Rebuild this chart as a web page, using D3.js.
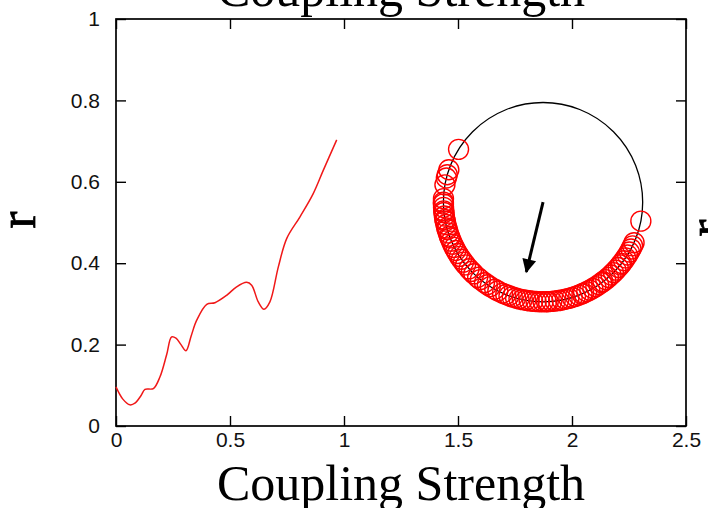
<!DOCTYPE html>
<html>
<head>
<meta charset="utf-8">
<script src="https://cdn.jsdelivr.net/npm/d3@7"></script>
<style>
  body { margin: 0; background: #fff; }
  svg { display: block; }
</style>
</head>
<body>
<div id="chart"></div>
<script>
// red curve: order parameter r vs coupling strength
var coupling = [0, 0.03, 0.061, 0.083, 0.11, 0.127, 0.164, 0.193, 0.222, 0.244, 0.263, 0.285, 0.307, 0.33, 0.354, 0.398, 0.434, 0.485, 0.529, 0.573, 0.595, 0.624, 0.649, 0.675, 0.712, 0.749, 0.807, 0.865, 0.909, 0.968];
var rValues  = [0.096, 0.066, 0.052, 0.056, 0.075, 0.09, 0.092, 0.121, 0.175, 0.219, 0.216, 0.2, 0.185, 0.222, 0.26, 0.299, 0.303, 0.321, 0.342, 0.353, 0.346, 0.305, 0.287, 0.305, 0.391, 0.461, 0.514, 0.571, 0.628, 0.703];

var xTicks = [0, 0.5, 1, 1.5, 2, 2.5];
var yTicks = [0, 0.2, 0.4, 0.6, 0.8, 1];

// inset: unit circle with oscillator phases (degrees) and mean field arrow
var insetCenter = [1.873, 0.55];   // in axis units
var insetRadius = 0.437;           // in x-axis units
var phases = [148, 161, 164, 166, 170, 349,
  178, 180, 181, 183, 185, 186, 188, 190, 191, 193, 195, 196, 198, 200, 201, 203, 205, 207,
  209, 211, 213, 215, 217, 219, 222, 224, 226, 229, 231, 234, 236, 238, 241, 243, 246, 248,
  250, 252, 254, 256, 258, 260, 262, 264, 266, 268, 270, 272, 273, 275, 277, 279, 281, 283,
  285, 287, 289, 291, 293, 294, 296, 298, 300, 302, 304, 306, 307, 309, 311, 313, 315, 317,
  319, 321, 322, 324, 326, 328, 330, 332, 334, 336];
var orderR = 0.72;
var orderPsi = 256.5;

var width = 708, height = 508;
var margin = {top: 19, right: 22, bottom: 82, left: 116};

var svg = d3.select("#chart")
  .append("svg")
    .attr("width", width)
    .attr("height", height)
    .attr("font-family", "'Liberation Sans', Arial, sans-serif");

var x = d3.scaleLinear()
  .domain([0, 2.5])
  .range([margin.left, width - margin.right]);

var y = d3.scaleLinear()
  .domain([0, 1])
  .range([height - margin.bottom, margin.top]);

// frame
svg.append("rect")
  .attr("x", x(0))
  .attr("y", y(1))
  .attr("width", x(2.5) - x(0))
  .attr("height", y(0) - y(1))
  .attr("fill", "none")
  .attr("stroke", "#000")
  .attr("stroke-width", 1.7);

// axes, ticks pointing inward
var fs = 21;
svg.append("g")
  .attr("transform", "translate(0," + y(0) + ")")
  .call(d3.axisBottom(x).tickValues(xTicks).tickSizeInner(-10).tickSizeOuter(0).tickPadding(6)
    .tickFormat(d3.format("")))
  .call(g => g.select(".domain").remove())
  .selectAll("text").attr("font-size", fs).attr("font-family", null).attr("fill", "#111");

svg.append("g")
  .attr("transform", "translate(" + x(0) + ",0)")
  .call(d3.axisLeft(y).tickValues(yTicks).tickSizeInner(-10).tickSizeOuter(0).tickPadding(16)
    .tickFormat(d3.format("")))
  .call(g => g.select(".domain").remove())
  .selectAll("text").attr("font-size", fs).attr("font-family", null).attr("fill", "#111");

svg.append("g")
  .attr("transform", "translate(0," + y(1) + ")")
  .call(d3.axisTop(x).tickValues(xTicks).tickSizeInner(-10).tickSizeOuter(0).tickFormat(""))
  .call(g => g.select(".domain").remove());

svg.append("g")
  .attr("transform", "translate(" + x(2.5) + ",0)")
  .call(d3.axisRight(y).tickValues(yTicks).tickSizeInner(-10).tickSizeOuter(0).tickFormat(""))
  .call(g => g.select(".domain").remove());

svg.selectAll(".tick line").attr("stroke", "#000").attr("stroke-width", 1.4);

// r(K) curve
var line = d3.line()
  .x(function(d, i) { return x(coupling[i]); })
  .y(function(d) { return y(d); })
  .curve(d3.curveCatmullRom);

svg.append("path")
  .attr("d", line(rValues))
  .attr("fill", "none")
  .attr("stroke", "#f01818")
  .attr("stroke-width", 1.5);

// inset circle
var cx = x(insetCenter[0]), cy = y(insetCenter[1]);
var R = x(insetCenter[0] + insetRadius) - x(insetCenter[0]);

svg.append("circle")
  .attr("cx", cx).attr("cy", cy).attr("r", R)
  .attr("fill", "none")
  .attr("stroke", "#000")
  .attr("stroke-width", 1.3);

var rad = Math.PI / 180;
svg.append("g")
  .selectAll("circle")
  .data(phases)
  .enter()
  .append("circle")
    .attr("cx", function(d) { return cx + R * Math.cos(d * rad); })
    .attr("cy", function(d) { return cy - R * Math.sin(d * rad); })
    .attr("r", 10)
    .attr("fill", "none")
    .attr("stroke", "#f00")
    .attr("stroke-width", 1.4);

// mean field arrow
svg.append("defs").append("marker")
  .attr("id", "head")
  .attr("viewBox", "0 0 10 10")
  .attr("refX", 9).attr("refY", 5)
  .attr("markerUnits", "userSpaceOnUse")
  .attr("markerWidth", 22).attr("markerHeight", 14)
  .attr("orient", "auto")
  .append("path")
    .attr("d", "M0,0L10,5L0,10Z")
    .attr("fill", "#000");

svg.append("line")
  .attr("x1", cx).attr("y1", cy)
  .attr("x2", cx + orderR * R * Math.cos(orderPsi * rad))
  .attr("y2", cy - orderR * R * Math.sin(orderPsi * rad))
  .attr("stroke", "#000")
  .attr("stroke-width", 3)
  .attr("marker-end", "url(#head)");

// axis titles (serif, partly cut by the page edge)
var serif = "'Liberation Serif', 'Times New Roman', serif";
svg.append("text")
  .attr("x", (x(0) + x(2.5)) / 2)
  .attr("y", 500)
  .attr("text-anchor", "middle")
  .attr("font-family", serif)
  .attr("font-size", 50)
  .text("Coupling Strength");

svg.append("text")
  .attr("x", (x(0) + x(2.5)) / 2)
  .attr("y", 6)
  .attr("text-anchor", "middle")
  .attr("font-family", serif)
  .attr("font-size", 50)
  .text("Coupling Strength");

svg.append("text")
  .attr("transform", "translate(35,220) rotate(-90)")
  .attr("text-anchor", "middle")
  .attr("font-family", serif)
  .attr("font-size", 52)
  .attr("stroke", "#000")
  .attr("stroke-width", 0.8)
  .text("r");

svg.append("text")
  .attr("transform", "translate(724,228) rotate(-90)")
  .attr("text-anchor", "middle")
  .attr("font-family", serif)
  .attr("font-size", 52)
  .attr("stroke", "#000")
  .attr("stroke-width", 0.8)
  .text("r");
</script>
</body>
</html>
